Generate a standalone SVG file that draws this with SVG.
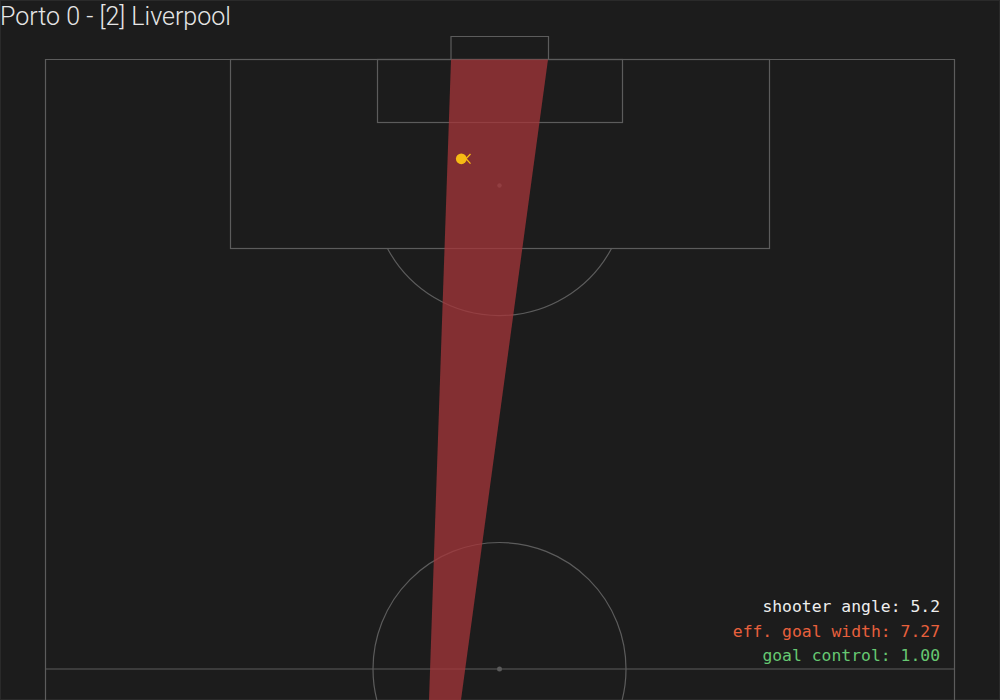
<svg xmlns="http://www.w3.org/2000/svg" width="1000" height="700" viewBox="0 0 1000 700">
  <style>
    .line { fill: none; stroke: #5c5c5c; stroke-width: 1.2; }
    .spot { fill: #5a5a5a; }
    .stat { font-family: "DejaVu Sans Mono", monospace; font-size: 16.4px; text-anchor: end; }
  </style>
  <rect x="0" y="0" width="1000" height="700" fill="#1c1c1c"/>
  <rect x="0.5" y="0.5" width="999" height="699" fill="none" stroke="#2a2a2a" stroke-width="1"/>

  <g id="pitch">
    <polyline class="line" points="45.5,700 45.5,59.5 954.5,59.5 954.5,700"/>
    <line class="line" x1="45.5" y1="669" x2="954.5" y2="669"/>
    <rect class="line" x="230.5" y="59.5" width="539" height="189"/>
    <rect class="line" x="377.5" y="59.5" width="245" height="63"/>
    <polyline class="line" points="451,59.5 451,36.5 548.5,36.5 548.5,59.5"/>
    <path class="line" d="M 387.5 248.5 A 127 127 0 0 0 611.5 248.5"/>
    <circle class="line" cx="499.5" cy="669" r="126.5"/>
    <circle class="spot" cx="499.5" cy="185.5" r="2.2"/>
    <circle class="spot" cx="499.5" cy="669" r="2.5"/>
  </g>

  <g id="wedge">
    <polygon points="451,59.5 548,59.5 461,700 429,700" fill="#a5353a" fill-opacity="0.75"/>
  </g>

  <g id="shooter">
    <circle cx="461.3" cy="158.8" r="5.4" fill="#f6bb14"/>
    <polyline points="470.5,154 466,158.8 470.5,163.6" fill="none" stroke="#f6bb14" stroke-width="1.3"/>
  </g>

  <text id="title" x="0" y="25" font-family="Roboto, 'Open Sans', sans-serif" font-weight="300" font-size="25" fill="#e6e6e6">Porto 0 - [2] Liverpool</text>

  <g id="stats">
    <text class="stat" x="940" y="612" fill="#eeeeee">shooter angle: 5.2</text>
    <text class="stat" x="940" y="636.5" fill="#e8603c">eff. goal width: 7.27</text>
    <text class="stat" x="940" y="661" fill="#66c872">goal control: 1.00</text>
  </g>
</svg>
